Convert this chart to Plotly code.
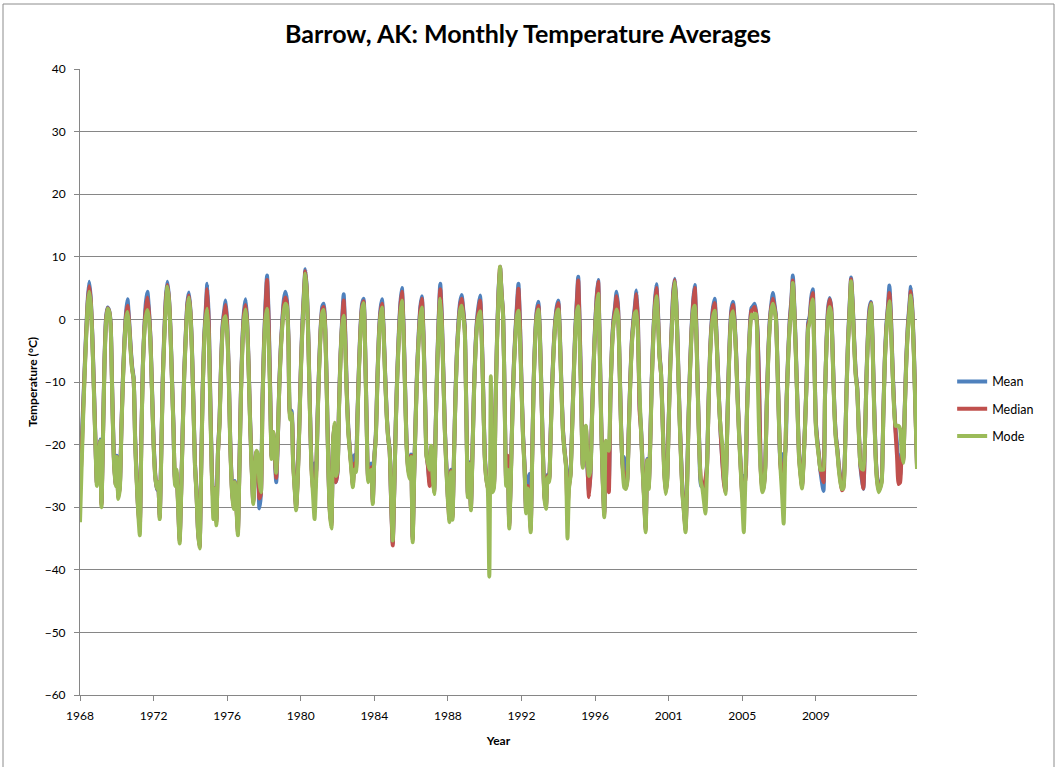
import plotly.graph_objects as go

# Monthly temperature averages at Barrow, AK (degrees C), one row per summer-to-summer season.
mean_rows = [
    [-22.6, -20, -14, -8, -2, 3],
    [6.0, 3.4, -2.2, -10.2, -18.8, -26, -21.8, -19.2, -29.3, -18.3, -6.3, 0.3],
    [1.9, 1.4, -0.6, -11.3, -21.3, -26.2, -21.8, -28.2, -26.4, -17.3, -9.3, -3.3, 1.0],
    [3.2, 0, -4.2, -7.5, -9.3, -19.2, -25.3, -30.3, -32.4, -19.3, -7.3, -1.2, 2.8],
    [4.4, 1.5, -3.2, -11.3, -19.3, -24.5, -27.2, -26.2, -31.3, -21.3, -9.3, -2, 3.5],
    [6.0, 3.6, -1.4, -9.4, -17.2, -25.4, -25, -29.2, -35, -27.2, -17.3, -8.3, -2.3, 2.6],
    [4.3, 1.6, -4.4, -13.4, -23, -27.6, -33.6, -36.2, -24.4, -11.3, -2.8, 1.5],
    [5.7, 0, -12.5, -24, -29, -27, -32, -21, -16.3, -7.3, -1, 1.3],
    [3.0, -0.5, -8.2, -19.3, -26.3, -29.7, -25.8, -29.4, -33.6, -23.3, -11.3, -3, 1.4],
    [3.2, 0, -7.3, -16.3, -23.3, -29, -24.8, -21.4, -22.5, -30.2, -28, -13.3, -4, 2.5],
    [7.0, 1, -10.5, -21.8, -18.2, -22, -26, -19.8, -10.3, -4.3, 0, 3.2],
    [4.4, 3, -3, -15, -14.6, -22.3, -26.4, -29.9, -25.3, -17.3, -8.3, -1, 4],
    [8.0, 4.6, -3.2, -14.2, -23.2, -26, -23, -24.5, -15.3, -7.3, -1.2, 2],
    [2.5, -1.2, -11.2, -23.3, -30.3, -32.6, -20.2, -17, -26, -24.4, -13.3, -5.3, 0],
    [4.0, -1.8, -11.2, -17.3, -20.6, -23.3, -26.2, -21.7, -23.6, -15.3, -7.3, -1, 2.5],
    [3.3, -4.2, -16.3, -25.3, -24.3, -23, -28.8, -22, -18.3, -9.3, -2.3, 1.6],
    [3.2, -1.2, -8.3, -14.6, -18.6, -20.8, -29.3, -35.7, -27, -16.3, -8.3, -2, 2.6],
    [5.0, -0.5, -10.2, -19.3, -23.3, -24.7, -21.6, -34.8, -24.3, -15.3, -7.3, -2, 2],
    [3.7, -1.8, -11.3, -21.3, -23.3, -26, -20.6, -24.8, -27.3, -17.3, -7.3, 0.4],
    [5.7, 0.6, -8.2, -17.3, -23.3, -28.3, -31.6, -24, -31.2, -21.3, -11.3, -4.3, 0, 2.8],
    [3.9, 1.6, -1.2, -14.3, -27.7, -22.8, -29.9, -21.3, -11.3, -4.3, 0, 2.2],
    [3.8, -1.5, -11.2, -21.3, -25, -26.5, -27, -25.5, -27, -26.3, -14.3, -3.3, 4.5],
    [8.4, 4.4, 0.8, -12.3, -25.6, -22, -32.6, -25.3, -15.3, -7.3, -2, 2.2],
    [5.7, -0.5, -10.2, -18.3, -23.3, -30.3, -26.3, -24.7, -33.2, -21.3, -9.3, -2.2, 1.5],
    [2.8, -2.2, -11.3, -21.3, -28.1, -29.7, -24.8, -25.4, -18.3, -10.3, -4.3, -0.2, 2],
    [3.0, -2, -10.3, -17.3, -20.6, -23, -25, -26.3, -24.4, -17.3, -9.3, -2, 2.6],
    [6.8, -1.4, -12.6, -23.2, -20.8, -17.4, -23.5, -27.5, -24.6, -15.3, -7.3, -1, 3.5],
    [6.3, -3.5, -16.2, -25.3, -30.8, -19.8, -21.8, -26, -12.3, -4.3, 0, 2],
    [4.4, 2, -7.2, -17.3, -23.3, -22, -26.6, -25.4, -17.3, -9.3, -3.3, 0, 2.2],
    [4.6, -0.5, -13.5, -17.5, -23.3, -28.3, -33.2, -22.3, -26.5, -19.3, -9.3, -2, 2.8],
    [5.6, 1.5, -5.3, -8.4, -15.3, -23.3, -27.3, -25.4, -16.3, -7.3, -1, 4.5],
    [6.5, 2.8, -5.2, -14.3, -21.3, -27.3, -30.3, -33.2, -26, -15.3, -7.3, -1, 3],
    [5.5, -0.5, -11.2, -20.3, -26.6, -26.3, -26.5, -26, -23.3, -13.3, -5.3, -0.5, 2],
    [3.3, -1, -7.3, -13.6, -18.6, -22.4, -25.6, -27.3, -19.3, -9.3, -2, 1.8],
    [2.8, 0, -5.3, -12.3, -18.3, -23.3, -27.5, -25, -25.4, -15.3, -7.3, -1, 1.8, 2.1],
    [2.5, 1.3, -2, -10.5, -23.3, -27, -26.4, -23.4, -13.3, -5.3, 0, 2.5],
    [4.2, 2.5, 0.5, -7.3, -16.3, -23.3, -22.5, -21.5, -21.3, -12.3, -5.3, 0, 3],
    [7.0, 2, -5.2, -13.3, -21.3, -24.3, -26.4, -22.4, -16.6, -9.3, -0.5, 0.5, 3.5],
    [4.8, -5, -16.3, -19.3, -21.6, -24.2, -26, -27.4, -12.3, -3.3, 1.8],
    [3.4, 2, -5.2, -13.3, -18.3, -20.6, -23.3, -25.3, -27, -26.5, -21.3, -11.3, -3.3, 2],
    [6.7, 2.8, -3.2, -8.3, -10.8, -17.3, -23.2, -25.5, -27.1, -20.2, -9.3, -2.2, 1.8],
    [2.8, -3.3, -13.3, -21.3, -25.4, -27, -26.5, -25.4, -15.3, -6.3, -1, 2],
    [5.4, 0.6, -7.2, -13.3, -17.5, -20, -24, -25, -21.3, -22.3, -14.3, -6.3, -1, 2.2],
    [5.2, 1.5, -5.2, -14.3, -23.3],
]

median_rows = [
    [-27, -22, -15, -8.5, -2.5, 2.5],
    [5.3, 3, -2.5, -10.5, -19, -26.2, -22, -19.4, -29.6, -18.6, -6.6, 0],
    [1.8, 1.3, -0.8, -11.6, -21.6, -26.4, -22, -28.4, -26.6, -17.6, -9.6, -3.6, 0.6],
    [2.2, -0.5, -4.6, -7.8, -9.6, -19.5, -25.6, -30.6, -33.2, -19.6, -7.6, -1.5, 1.8],
    [3.5, 1, -3.5, -11.6, -19.6, -24.7, -27, -26, -31.6, -21.6, -9.6, -2.5, 3],
    [5.5, 3.3, -1.7, -9.7, -17.4, -26, -24.5, -29.6, -35.4, -27.6, -17.6, -8.6, -2.6, 2.2],
    [3.8, 1.3, -4.7, -13.7, -23.2, -27.8, -33.8, -36.4, -24.7, -11.6, -3.4, 0.8],
    [4.8, -1, -13, -24.5, -30, -27, -32.4, -21.3, -16.6, -7.6, -1.5, 0.8],
    [2.3, -1, -8.5, -19.6, -26.6, -30, -26, -29.7, -34, -23.6, -11.6, -3.5, 0.8],
    [2.3, -0.5, -7.6, -16.6, -23.6, -29.2, -25, -21.2, -22, -28.6, -27.8, -13.6, -4.5, 1.5],
    [6.3, 0, -11, -22, -18, -21.5, -25.3, -19.5, -10.6, -4.6, -0.5, 2.5],
    [3.5, 2.5, -3.5, -15.3, -15, -22.6, -26.7, -30.2, -25.6, -17.6, -8.6, -1.5, 3.5],
    [7.7, 4.3, -3.6, -14.6, -23.6, -27, -28, -25.2, -15.6, -7.6, -1.6, 1.5],
    [2.0, -1.6, -11.6, -23.6, -30.6, -33, -20, -16.8, -26, -24.2, -13.6, -5.6, -0.5],
    [3.0, -2.5, -11.5, -17.6, -20.8, -23.6, -26.5, -23, -24, -15.6, -7.6, -1.5, 2],
    [2.9, -4.6, -16.6, -25.6, -24.6, -23.6, -29.2, -22.2, -18.6, -9.6, -2.6, 1],
    [2.5, -1.6, -8.6, -14.8, -18.8, -21, -29.5, -36.1, -27.2, -16.6, -8.6, -2.5, 2],
    [4.4, -1, -10.5, -19.6, -23.6, -25, -21.8, -35.2, -24.6, -15.6, -7.6, -2.5, 1.5],
    [3.3, -2.2, -11.6, -21.5, -23.5, -26.6, -20.5, -25, -27.6, -17.6, -7.6, -0.2],
    [4.8, 0, -8.5, -17.6, -23.6, -28.6, -32, -24.2, -31.6, -21.6, -11.6, -4.6, -0.5, 2.2],
    [3.3, 1.2, -1.6, -14.6, -28, -23, -30.2, -21.6, -11.6, -4.6, -0.5, 1.5],
    [3.0, -2, -11.5, -21.6, -25.3, -26.8, -27.5, -26, -27.2, -26.6, -14.6, -3.6, 4],
    [8.4, 4.2, 0.6, -12.6, -26, -21.8, -33, -25.6, -15.6, -7.6, -2.5, 1.5],
    [4.9, -1, -10.5, -18.6, -23.6, -30.6, -26.6, -27, -33.6, -21.6, -9.6, -2.6, 1],
    [2.2, -2.6, -11.6, -21.6, -28.4, -30, -25, -25.7, -18.6, -10.6, -4.6, -0.6, 1.5],
    [2.6, -2.4, -10.6, -17.6, -20.8, -23.2, -30, -26.6, -24.7, -17.6, -9.6, -2.5, 2],
    [6.2, -2, -13, -23.4, -21, -17.2, -23, -28.4, -24.5, -15.6, -7.6, -1.5, 3],
    [6.0, -4, -16.5, -25.6, -31.2, -19.6, -22, -27.6, -12.5, -4.6, -0.5, 1.5],
    [3.7, 1.5, -7.5, -17.6, -23.6, -25, -27, -25.7, -17.6, -9.6, -3.6, -0.5, 1.6],
    [4.0, -1, -14.4, -17.8, -23.6, -28.6, -33.6, -22.5, -26.8, -19.6, -9.6, -2.5, 2.2],
    [5.0, 1, -5.6, -8.6, -15.6, -23.6, -27.6, -25.7, -16.6, -7.6, -1.5, 4],
    [6.3, 2.4, -5.6, -14.6, -21.6, -27.6, -30.6, -33.6, -26.6, -15.6, -7.6, -1.5, 2.5],
    [5.0, -1, -11.5, -20.6, -25.6, -26.5, -27, -25.5, -23.6, -13.6, -5.6, -1, 1.5],
    [2.6, -1.5, -7.6, -13.8, -18.5, -22.8, -26, -27.6, -19.6, -9.6, -2.5, 1.2],
    [2.3, -0.5, -5.6, -12.6, -18.6, -23.6, -28, -26, -25.7, -15.6, -7.6, -1.5, 1.4, 1.6],
    [2.0, 1, -2.5, -11.2, -23.6, -27.3, -26.7, -23.7, -13.6, -5.6, -0.5, 2],
    [3.3, 2, 0.2, -7.6, -16.6, -23.6, -25, -24, -21.6, -12.6, -5.6, -0.5, 2.5],
    [6.2, 1.5, -5.6, -13.6, -21.6, -24.6, -26.7, -22.7, -16.8, -9.6, -1, 0, 2.8],
    [4.2, -5.5, -16.6, -19.6, -21.8, -24, -25, -26, -12, -3.6, 1.2],
    [3.2, 1.8, -5.5, -13.6, -18.6, -20.8, -23.6, -25.6, -27.3, -26.8, -21.6, -11.6, -3.6, 1.5],
    [6.4, 2.4, -3.6, -8.6, -11, -17.6, -23, -25, -27, -20, -9.6, -2.6, 1.2],
    [2.6, -3.6, -13.6, -21.6, -25.7, -27.3, -26.8, -25.7, -15.6, -6.6, -1.5, 1.5],
    [4.2, 0, -7.5, -13.6, -18, -22, -26.3, -26, -21.6, -22.6, -14.6, -6.6, -1.5, 1.6],
    [4.5, 1, -5.6, -14.6, -23.6],
]

mode_rows = [
    [-32.4, -24, -16, -9, -3, 2],
    [4.4, 2.5, -3, -11, -19.4, -26.6, -22, -19.4, -30, -19, -7, -0.5],
    [1.7, 1.2, -1, -12, -22, -26.6, -22, -28.7, -27, -18, -10, -4, 0],
    [1.2, -1, -5, -8, -9.6, -20, -26, -31, -34.5, -20, -8, -2, 0.5],
    [1.5, 0, -4, -12, -20, -25, -27, -26, -31.9, -22, -10, -3, 2],
    [5.2, 3, -2, -10, -17.6, -26.6, -24, -30, -35.8, -28, -18, -9, -3, 1.5],
    [3.5, 1, -5, -14, -23.4, -28, -34, -36.6, -25, -12, -4, 0],
    [1.7, -3, -14, -25, -31.9, -27, -32.9, -21.3, -17, -8, -2, 0],
    [0.5, -2, -9, -20, -27, -30.3, -26, -30, -34.5, -24, -12, -4, 0],
    [1.6, -1, -8, -17, -24, -29.5, -25, -21, -21.5, -26, -27.6, -14, -5, 0],
    [1.7, -3, -12, -22.3, -18, -21, -24.5, -19, -11, -5, -1, 1.5],
    [2.5, 2.0, -4, -16, -15, -23, -27, -30.5, -26, -18, -9, -2, 3],
    [7.3, 4, -4, -15, -24, -28, -31.9, -26, -16, -8, -2, 1],
    [1.5, -2, -12, -24, -31, -33.4, -20, -16.5, -25, -24, -14, -6, -1],
    [0.6, -4, -12, -18, -21, -24, -26.8, -24, -24.4, -16, -8, -2, 1.5],
    [2.6, -5, -17, -26, -25, -24, -29.5, -22.2, -19, -10, -3, 0.5],
    [1.9, -2, -9, -15, -19, -21, -29, -35.3, -27, -17, -9, -3, 1],
    [3.0, -2, -11, -20, -24, -25.5, -22, -35.6, -25, -16, -8, -3, 0.5],
    [1.9, -3, -12, -21.8, -23, -24, -20.2, -25, -27.9, -18, -8, -1],
    [3.3, -1, -9, -18, -24, -29, -32.4, -24.4, -32, -22, -12, -5, -1, 1.5],
    [2.2, 0.5, -2, -15, -28.4, -23.1, -30.5, -22, -12, -5, -1, 0.5],
    [1.3, -3, -12, -22, -25.5, -27, -41.1, -9.1, -27.6, -27, -15, -4, 3.5],
    [8.4, 4, 0.4, -13, -26.6, -24, -33.4, -26, -16, -8, -3, 0.5],
    [1.4, -3, -11, -19, -24, -31, -27, -30, -34, -22, -10, -3, 0.5],
    [1.6, -3, -12, -22, -28.7, -30.3, -25.2, -26, -19, -11, -5, -1, 1],
    [1.6, -3, -11, -18, -21, -23.4, -35, -27, -25, -18, -10, -3, 1],
    [2.1, -4, -14, -23.7, -21, -17, -22, -25, -24, -16, -8, -2, 2],
    [4.1, -5, -17, -26, -31.6, -19.4, -20.2, -21, -12, -5, -1, 0.5],
    [1.6, 0.5, -8, -18, -24, -26.8, -27.1, -26, -18, -10, -4, -1, 1],
    [1.3, -3, -12, -18, -24, -29, -34, -22.5, -27.1, -20, -10, -3, 1.5],
    [3.7, 0, -6, -8.6, -16, -24, -27.9, -26, -17, -8, -2, 3],
    [6.0, 2, -6, -15, -22, -28, -31, -34, -27, -16, -8, -2, 1.5],
    [2.2, -2, -12, -21, -26, -27, -29, -31, -24, -14, -6, -1.5, 0.5],
    [1.4, -2, -8, -14, -17.8, -20, -25, -27.9, -20, -10, -3, 0.5],
    [1.3, -1, -6, -13, -19, -24, -29, -34, -26, -16, -8, -2, 0.8, 0.3],
    [0.9, 0.8, -8, -18, -24, -27.6, -27, -24, -14, -6, -1, 1.5],
    [2.5, 1.5, -0.1, -8, -17, -24, -28, -32.6, -22, -13, -6, -1, 1.5],
    [5.8, 1, -6, -14, -22, -25, -27, -23, -17, -10, -1.5, -0.5, 2],
    [3.2, -6, -17, -20, -22, -24, -24, -24, -12, -4, 0.5],
    [2.0, 1, -6, -14, -19, -21, -24, -26, -27.1, -27, -22, -12, -4, 1],
    [6.1, 2, -4, -9, -11.2, -18, -23, -23.9, -24, -20, -10, -3, 0.5],
    [2.5, -4, -14, -22, -26, -27.6, -27, -26, -16, -7, -2, 1],
    [2.9, -1, -8, -14, -17, -17, -17, -17.5, -21, -22.9, -15, -7, -2, 1],
    [3.8, 0.5, -6, -15, -23.9],
]

# Category axis: a year label is printed every 48 observations
year_labels = ["1968", "1972", "1976", "1980", "1984", "1988",
               "1992", "1996", "2001", "2005", "2009"]
label_step = 48

mean = [v for row in mean_rows for v in row]
median = [v for row in median_rows for v in row]
mode = [v for row in mode_rows for v in row]
obs = list(range(len(mode)))

series = [
    ("Mean", mean, "#4F81BD"),
    ("Median", median, "#C0504D"),
    ("Mode", mode, "#9BBB59"),
]

FONT = "Lato"
GRID = "#868686"

fig = go.Figure()
for name, vals, color in series:
    fig.add_trace(go.Scatter(
        x=obs[:len(vals)], y=vals, mode="lines", name=name,
        legendgroup=name,
        line=dict(color=color, width=4, shape="spline", smoothing=0.5),
    ))

fig.update_layout(
    width=1056, height=767,
    margin=dict(l=80, r=139, t=69, b=72),
    paper_bgcolor="white", plot_bgcolor="white",
    font=dict(family=FONT, color="black", size=12),
    title=dict(
        text="<b>Barrow, AK: Monthly Temperature Averages</b>",
        x=0.5, xref="container", xanchor="center",
        y=1 - 34 / 767, yref="container", yanchor="middle",
        font=dict(family=FONT, size=25, color="black"),
    ),
    showlegend=True,
    legend=dict(
        x=1.042, xanchor="left", y=0.457, yanchor="middle",
        font=dict(family=FONT, size=12.5, color="black"),
        itemwidth=30, tracegroupgap=8, bgcolor="rgba(0,0,0,0)",
    ),
    xaxis=dict(
        range=[0, len(mode) - 1],
        tickmode="array",
        tickvals=[i * label_step for i in range(len(year_labels))],
        ticktext=year_labels,
        showgrid=False, zeroline=False,
        showline=True, linecolor=GRID, linewidth=1,
        ticks="outside", ticklen=5, tickcolor=GRID,
        ticklabelstandoff=5,
        tickfont=dict(family=FONT, size=12, color="black"),
        title=dict(text="<b>Year</b>", standoff=14,
                   font=dict(family=FONT, size=12, color="black")),
    ),
    yaxis=dict(
        range=[-60, 40], dtick=10, tick0=0,
        showgrid=True, gridcolor=GRID, gridwidth=1,
        zeroline=False,
        showline=True, linecolor=GRID, linewidth=1,
        ticks="outside", ticklen=5, tickcolor=GRID,
        ticklabelstandoff=6,
        tickfont=dict(family=FONT, size=12, color="black"),
        title=dict(text="<b>Temperature (°C)</b>", standoff=4,
                   font=dict(family=FONT, size=12, color="black")),
    ),
)

# Chart-area frame
fig.add_shape(
    type="rect", xref="paper", yref="paper",
    x0=(3 - 80) / 837, x1=(1054 - 80) / 837,
    y0=(695 - 775) / 626, y1=(695 - 4) / 626,
    line=dict(color="#8C8C8C", width=1), fillcolor="rgba(0,0,0,0)",
    layer="below",
)

fig.write_html("out.html")
